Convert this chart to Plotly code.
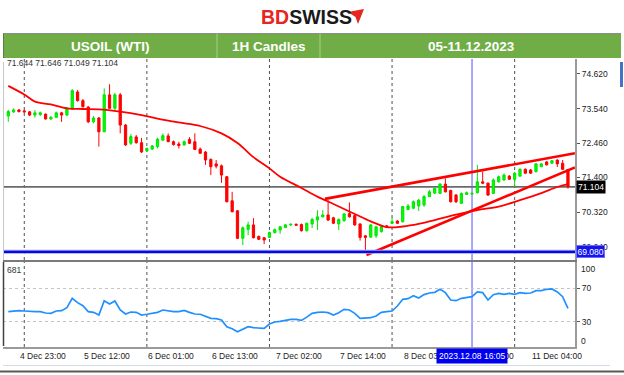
import plotly.graph_objects as go

# ---------------- data ----------------
candle_idx = list(range(106))
opens = [73.31, 73.44, 73.50, 73.47, 73.44, 73.34, 73.36, 73.37, 73.22, 73.27,
         73.41, 73.34, 73.55, 74.06, 73.79, 73.59, 73.13, 73.25, 72.82, 73.97,
         73.55, 73.97, 73.03, 72.46, 72.66, 72.48, 72.23, 72.28, 72.36, 72.56,
         72.69, 72.51, 72.44, 72.41, 72.58, 72.51, 72.28, 72.19, 71.96, 71.82,
         71.76, 71.42, 70.67, 70.36, 69.50, 69.78, 69.92, 69.56, 69.52, 69.53,
         69.68, 69.76, 69.84, 69.92, 69.94, 69.93, 69.74, 69.95, 70.07, 70.17,
         70.23, 70.14, 69.95, 70.05, 70.27, 70.21, 69.95, 69.58, 69.54, 69.58,
         69.71, 69.89, 69.97, 70.04, 70.02, 70.40, 70.44, 70.51, 70.54, 70.80,
         70.91, 70.90, 71.19, 70.99, 70.85, 70.59, 70.87, 70.88, 70.92, 71.26,
         71.22, 70.90, 71.26, 71.32, 71.44, 71.34, 71.44, 71.65, 71.63, 71.58,
         71.73, 71.88, 71.84, 71.94, 71.84, 71.644]
highs = [73.50, 73.55, 73.53, 73.51, 73.47, 73.50, 73.45, 73.39, 73.31, 73.45,
         73.44, 73.59, 74.15, 74.12, 73.84, 73.62, 73.31, 73.28, 74.17, 74.30,
         74.03, 74.03, 73.06, 72.75, 72.72, 72.63, 72.33, 72.41, 72.63, 72.77,
         72.77, 72.55, 72.51, 72.55, 72.65, 72.77, 72.33, 72.22, 71.99, 71.94,
         71.80, 71.44, 70.95, 70.38, 69.87, 70.02, 70.13, 69.59, 69.54, 69.71,
         69.81, 69.89, 69.95, 69.96, 69.96, 69.96, 69.99, 70.14, 70.38, 70.38,
         70.69, 70.17, 70.12, 70.29, 70.62, 70.26, 69.96, 69.59, 69.95, 69.89,
         69.89, 69.92, 70.17, 70.07, 70.51, 70.57, 70.68, 70.73, 70.85, 71.01,
         71.10, 71.22, 71.37, 71.02, 70.88, 70.93, 70.96, 70.93, 71.79, 71.58,
         71.24, 71.37, 71.46, 71.52, 71.47, 71.57, 71.68, 71.68, 71.66, 71.85,
         71.85, 71.91, 71.94, 71.96, 71.94, 71.646]
lows = [73.13, 73.41, 73.42, 73.41, 73.31, 73.26, 73.31, 73.20, 73.19, 73.25,
        73.13, 73.31, 73.50, 73.76, 73.58, 73.09, 73.08, 72.36, 72.81, 73.53,
        73.50, 72.77, 72.38, 72.41, 72.45, 72.16, 72.20, 72.25, 72.30, 72.53,
        72.50, 72.39, 72.30, 72.39, 72.44, 72.25, 72.13, 71.79, 71.47, 71.68,
        71.23, 70.62, 70.31, 69.48, 69.29, 69.60, 69.50, 69.45, 69.32, 69.51,
        69.65, 69.64, 69.82, 69.89, 69.89, 69.71, 69.71, 69.82, 69.76, 70.15,
        70.04, 69.95, 69.76, 70.02, 70.15, 69.89, 69.43, 69.06, 69.51, 69.51,
        69.68, 69.82, 69.95, 69.95, 69.99, 70.38, 70.41, 70.35, 70.48, 70.79,
        70.88, 70.88, 70.93, 70.62, 70.60, 70.57, 70.85, 70.85, 70.90, 71.19,
        70.82, 70.88, 71.24, 71.29, 71.32, 71.10, 71.41, 71.51, 71.51, 71.55,
        71.72, 71.77, 71.82, 71.72, 71.63, 71.049]
closes = [73.45, 73.50, 73.45, 73.44, 73.34, 73.41, 73.41, 73.22, 73.27, 73.41,
          73.34, 73.56, 74.10, 73.79, 73.60, 73.13, 73.25, 72.82, 73.97, 73.55,
          73.97, 73.03, 72.41, 72.67, 72.48, 72.19, 72.30, 72.38, 72.59, 72.70,
          72.51, 72.42, 72.39, 72.51, 72.46, 72.27, 72.15, 71.94, 71.73, 71.75,
          71.47, 70.64, 70.33, 69.50, 69.83, 69.92, 69.52, 69.47, 69.45, 69.68,
          69.77, 69.86, 69.92, 69.94, 69.91, 69.74, 69.97, 70.09, 70.17, 70.23,
          70.07, 69.97, 70.09, 70.26, 70.17, 69.92, 69.53, 69.53, 69.92, 69.86,
          69.86, 69.84, 70.02, 69.97, 70.49, 70.51, 70.64, 70.69, 70.80, 70.95,
          71.06, 71.19, 70.95, 70.64, 70.64, 70.90, 70.92, 70.90, 71.26, 71.22,
          70.85, 71.32, 71.42, 71.47, 71.34, 71.53, 71.65, 71.53, 71.53, 71.82,
          71.82, 71.79, 71.92, 71.82, 71.65, 71.104]

ma_idx = [0, 3, 5, 8, 11, 14, 17, 21, 25, 28, 32, 36, 40, 43, 46, 49, 51, 55, 58,
          61, 65, 68, 71, 74, 77, 80, 84, 88, 92, 96, 100, 103, 105]
ma_vals = [74.25, 73.98, 73.76, 73.67, 73.55, 73.53, 73.52, 73.45, 73.34, 73.23,
           73.11, 73.00, 72.77, 72.47, 72.03, 71.68, 71.42, 71.07, 70.80, 70.57,
           70.26, 70.03, 69.85, 69.87, 69.95, 70.07, 70.24, 70.38, 70.49, 70.69,
           70.91, 71.10, 71.19]

trend_upper_x = [59.4, 106.3]
trend_upper_y = [70.73, 72.15]
trend_lower_x = [67.2, 106.3]
trend_lower_y = [68.98, 71.71]

rsi = [42.0, 42.8, 43.2, 42.8, 42.0, 42.0, 42.0, 40.4, 40.0, 42.8,
       43.2, 46.8, 58.0, 52.8, 49.2, 42.0, 41.2, 38.0, 55.2, 51.2,
       54.8, 44.0, 39.2, 41.6, 41.2, 38.0, 38.9, 40.0, 41.2, 44.0,
       42.8, 42.0, 42.0, 43.6, 41.2, 39.2, 38.9, 36.0, 34.0, 33.6,
       32.0, 24.0, 21.6, 18.0, 21.2, 24.0, 22.8, 22.4, 22.0, 27.2,
       29.6, 30.4, 32.0, 32.8, 32.8, 31.5, 35.5, 40.0, 41.2, 41.6,
       40.8, 38.0, 40.8, 44.8, 44.0, 40.0, 34.0, 34.0, 34.8, 36.8,
       41.2, 42.0, 42.8, 48.8, 56.8, 57.6, 61.2, 58.4, 62.4, 64.4,
       65.2, 68.8, 64.8, 56.0, 55.2, 58.0, 59.2, 60.0, 65.6, 64.8,
       56.0, 62.4, 64.0, 62.8, 64.0, 62.8, 64.8, 64.0, 64.4, 67.2,
       67.2, 68.8, 69.2, 65.6, 60.0, 46.0]

price_ticks = [74.62, 73.54, 72.46, 71.40, 70.32, 69.24]
rsi_ticks = [30, 70]
support_level = 69.08
last_close = closes[-1]
day_sep_idx = [3, 26, 49, 72, 95]
cursor_idx = 87
cursor_label = "2023.12.08 16:05"
time_tick_idx = [2, 14, 26, 38, 50, 62, 74, 86, 98]
time_tick_text = ["4 Dec 23:00", "5 Dec 12:00", "6 Dec 01:00", "6 Dec 13:00",
                  "7 Dec 02:00", "7 Dec 14:00", "8 Dec 03:00", "8 Dec 15:00",
                  "11 Dec 04:00"]
header_cells = ["USOIL (WTI)", "1H Candles", "05-11.12.2023"]
ohlc_text = "71.644 71.646 71.049 71.104"

# ---------------- layout helpers (pixel -> paper) ----------------
W, H = 624, 375
L, R, T, B = 3, 575, 59, 347


def px(x):
    return (x - L) / (R - L)


def py(y):
    return (B - y) / (B - T)


FONT = "Liberation Sans, Arial, sans-serif"
RED = "#ff0000"
GREEN = "#00e400"

fig = go.Figure()

fig.add_trace(go.Candlestick(
    x=candle_idx, open=opens, high=highs, low=lows, close=closes,
    increasing=dict(line=dict(color=GREEN, width=1), fillcolor="#00ff00"),
    decreasing=dict(line=dict(color=RED, width=1), fillcolor=RED),
    whiskerwidth=0, xaxis="x", yaxis="y", showlegend=False, hoverinfo="skip"))

fig.add_trace(go.Scatter(x=ma_idx, y=ma_vals, mode="lines",
                         line=dict(color=RED, width=1.8, shape="spline"),
                         xaxis="x", yaxis="y", showlegend=False, hoverinfo="skip"))
fig.add_trace(go.Scatter(x=trend_upper_x, y=trend_upper_y, mode="lines",
                         line=dict(color=RED, width=2.6),
                         xaxis="x", yaxis="y", showlegend=False, hoverinfo="skip"))
fig.add_trace(go.Scatter(x=trend_lower_x, y=trend_lower_y, mode="lines",
                         line=dict(color=RED, width=2.6),
                         xaxis="x", yaxis="y", showlegend=False, hoverinfo="skip"))

fig.add_trace(go.Scatter(x=candle_idx, y=rsi, mode="lines",
                         line=dict(color="#2090ff", width=1.7),
                         xaxis="x2", yaxis="y2", showlegend=False, hoverinfo="skip"))

shapes = []
# day separators (dotted)
for d in day_sep_idx:
    shapes.append(dict(type="line", xref="x", yref="y domain", x0=d, x1=d, y0=0, y1=1,
                       line=dict(color="#505050", width=1, dash="dot"), layer="below"))
    shapes.append(dict(type="line", xref="x2", yref="y2 domain", x0=d, x1=d, y0=0, y1=1,
                       line=dict(color="#505050", width=1, dash="dot"), layer="below"))
# cursor line
for xr, yr in (("x", "y domain"), ("x2", "y2 domain")):
    shapes.append(dict(type="line", xref=xr, yref=yr, x0=cursor_idx, x1=cursor_idx, y0=0, y1=1,
                       line=dict(color="#5050ff", width=1), layer="below"))
# bid line
shapes.append(dict(type="line", xref="x domain", yref="y", x0=0, x1=1, y0=last_close, y1=last_close,
                   line=dict(color="#6a6a6a", width=1.6), layer="below"))
# support line
shapes.append(dict(type="line", xref="x domain", yref="y", x0=0, x1=1, y0=support_level, y1=support_level,
                   line=dict(color="#9aa0ff", width=4), layer="above"))
shapes.append(dict(type="line", xref="x domain", yref="y", x0=0, x1=1, y0=support_level, y1=support_level,
                   line=dict(color="#0a0ad8", width=2.2), layer="above"))
# left borders
shapes.append(dict(type="line", xref="paper", yref="paper", x0=px(3.5), x1=px(3.5), y0=py(260), y1=py(62),
                   line=dict(color="#c8c8c8", width=1)))
shapes.append(dict(type="line", xref="paper", yref="paper", x0=px(3.5), x1=px(3.5), y0=py(346), y1=py(262),
                   line=dict(color="#404040", width=1.5)))
# bottom frame lines
shapes.append(dict(type="line", xref="paper", yref="paper", x0=px(3), x1=px(610), y0=py(365.5), y1=py(365.5),
                   line=dict(color="#d6dbe6", width=1)))
shapes.append(dict(type="line", xref="paper", yref="paper", x0=px(0), x1=px(624), y0=py(371.5), y1=py(371.5),
                   line=dict(color="#5a5a5a", width=2)))
# right blue scroll marker
shapes.append(dict(type="rect", xref="paper", yref="paper", x0=px(620), x1=px(623), y0=py(87), y1=py(62),
                   fillcolor="#4472c4", line=dict(width=0)))
# header green bar
shapes.append(dict(type="rect", xref="paper", yref="paper", x0=px(3), x1=px(621), y0=py(58), y1=py(33.5),
                   fillcolor="#70ad47", line=dict(width=0)))
shapes.append(dict(type="line", xref="paper", yref="paper", x0=px(3), x1=px(621), y0=py(33.5), y1=py(33.5),
                   line=dict(color="#8c8c8c", width=1)))
shapes.append(dict(type="line", xref="paper", yref="paper", x0=px(3.5), x1=px(3.5), y0=py(58), y1=py(33.5),
                   line=dict(color="#5a7f3c", width=1)))
for sx in (217, 320):
    shapes.append(dict(type="line", xref="paper", yref="paper", x0=px(sx), x1=px(sx), y0=py(58), y1=py(33.5),
                       line=dict(color="#a8cf8c", width=1)))
# logo arrow
pts = [(348, 12), (364, 9), (358, 24), (355.5, 17)]
path = "M " + " L ".join(f"{px(a):.5f},{py(b):.5f}" for a, b in pts) + " Z"
shapes.append(dict(type="path", xref="paper", yref="paper", path=path,
                   fillcolor="#e52521", line=dict(width=0)))

ann = []
small = dict(family=FONT, size=8.5, color="#222222")
# logo text
ann.append(dict(xref="paper", yref="paper", x=px(259), y=py(16.5), xanchor="left", yanchor="middle",
                showarrow=False,
                text="<b><span style='color:#e52521'>BD</span><span style='color:#1a1a1a'>SWISS</span></b>",
                font=dict(family=FONT, size=19.5)))
# header cells
for txt, cx in zip(header_cells, (110, 268.5, 471)):
    ann.append(dict(xref="paper", yref="paper", x=px(cx), y=py(46), xanchor="center", yanchor="middle",
                    showarrow=False, text=f"<b>{txt}</b>",
                    font=dict(family=FONT, size=13.5, color="white")))
# OHLC text
ann.append(dict(xref="paper", yref="paper", x=px(5), y=py(63), xanchor="left", yanchor="middle",
                showarrow=False, text=ohlc_text, font=dict(family=FONT, size=8.5, color="#333333")))
# RSI indicator label
ann.append(dict(xref="paper", yref="paper", x=px(4.5), y=py(270), xanchor="left", yanchor="middle",
                showarrow=False, text="681", font=dict(family=FONT, size=8.5, color="#333333")))
# RSI end labels
ann.append(dict(xref="paper", yref="paper", x=px(579), y=py(268.5), xanchor="left", yanchor="middle",
                showarrow=False, text="100", font=small))
ann.append(dict(xref="paper", yref="paper", x=px(579), y=py(341), xanchor="left", yanchor="middle",
                showarrow=False, text="0", font=small))
# time labels
for ti, tt in zip(time_tick_idx, time_tick_text):
    ann.append(dict(xref="x2", yref="paper", x=ti, y=py(355.5), xanchor="left", yanchor="middle",
                    showarrow=False, text=tt, font=small, xshift=-1))
# cursor time label
ann.append(dict(xref="x2", yref="paper", x=cursor_idx, y=py(355.5), xanchor="center", yanchor="middle",
                showarrow=False, text=cursor_label, bgcolor="#0000f0", borderpad=2,
                font=dict(family=FONT, size=8.5, color="white")))
# price boxes
ann.append(dict(xref="paper", yref="y", x=px(576), y=last_close, xanchor="left", yanchor="middle",
                showarrow=False, text=f"{last_close:.3f}", bgcolor="#000000", borderpad=1,
                font=dict(family=FONT, size=8.5, color="white")))
ann.append(dict(xref="paper", yref="y", x=px(576), y=support_level, xanchor="left", yanchor="middle",
                showarrow=False, text=f"{support_level:.3f}", bgcolor="#1414f0", bordercolor="#6c6cff",
                borderwidth=1, borderpad=0.5, font=dict(family=FONT, size=8.5, color="white")))

fig.update_layout(
    width=W, height=H,
    margin=dict(l=L, r=W - R, t=T, b=H - B),
    paper_bgcolor="white", plot_bgcolor="white",
    showlegend=False,
    boxgap=0.4,
    xaxis=dict(domain=[0, 1], range=[-0.99, 106.32], anchor="y", showticklabels=False,
               showgrid=False, zeroline=False, showline=True, linecolor="#7a7a7a", linewidth=2,
               rangeslider=dict(visible=False), fixedrange=True),
    yaxis=dict(domain=[py(260), 1], side="right", range=[68.826, 75.087],
               tickvals=price_ticks, ticktext=[f"{v:.3f}" for v in price_ticks],
               ticks="outside", ticklen=3, tickcolor="#555555",
               tickfont=small, showgrid=False, zeroline=False,
               showline=True, linecolor="#9a9a9a", linewidth=2, fixedrange=True),
    xaxis2=dict(domain=[0, 1], range=[-0.99, 106.32], anchor="y2", matches="x", showticklabels=False,
                showgrid=False, zeroline=False, showline=True, linecolor="#9a9a9a", linewidth=1.5,
                fixedrange=True),
    yaxis2=dict(domain=[0, py(262)], side="right", range=[-0.3, 101.5], anchor="x2",
                tickvals=rsi_ticks, ticktext=[str(v) for v in rsi_ticks],
                ticks="outside", ticklen=3, tickcolor="#555555", tickfont=small,
                showgrid=True, gridcolor="#c4c4c4", griddash="dot", gridwidth=1, zeroline=False,
                showline=True, linecolor="#9a9a9a", linewidth=2, fixedrange=True),
    shapes=shapes, annotations=ann,
)

fig.write_html("out.html")
